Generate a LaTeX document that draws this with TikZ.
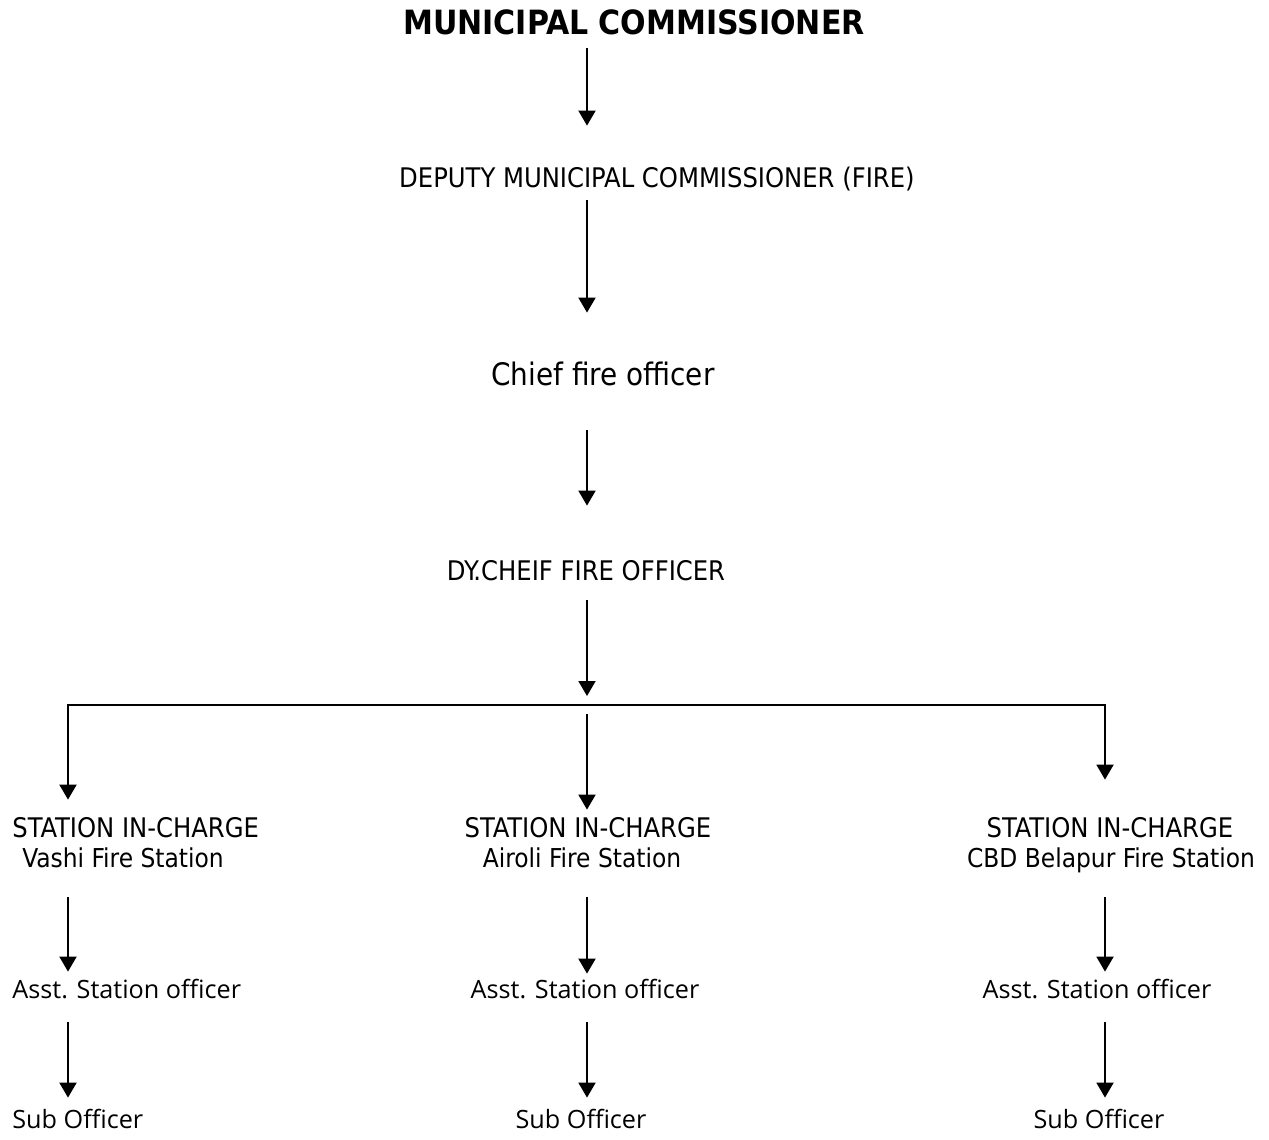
\documentclass[tikz,border=0pt]{standalone}
\usepackage{fontspec}
\setmainfont{Open Sans}
\newfontfamily\tahfont{DejaVu Sans Condensed}
\usetikzlibrary{arrows.meta, positioning, calc}

\tikzset{
    lbl/.style={inner sep=0pt, text height=9pt, text depth=2pt, anchor=base, font=\tahfont\fontsize{13.5}{16}\selectfont},
    lblw/.style={lbl, anchor=base west},
    stn/.style={lbl, font=\tahfont\fontsize{13}{16}\selectfont},
    low/.style={lbl, font=\fontsize{12.6}{15}\selectfont},
    arr/.style={-{Triangle[length=7.5pt,width=8.5pt]}, line width=1pt}
}

\begin{document}
\begin{tikzpicture}[x=0.5pt, y=-0.5pt]
        \useasboundingbox (0,0) rectangle (1269,1140);
        % columns of the chart
        \coordinate (colL) at (68,0);
        \coordinate (colM) at (587,0);
        \coordinate (colR) at (1105,0);

        % top of the chain
        \node[lbl, font=\tahfont\bfseries\fontsize{16.7}{20}\selectfont] (mc) at (634,34) {MUNICIPAL COMMISSIONER};
        \node[lbl] (dmc) at (657,187) {DEPUTY MUNICIPAL COMMISSIONER (FIRE)};
        \node[lbl, font=\tahfont\fontsize{15.5}{19}\selectfont] (cfo) at (603,385) {Chief fire officer};
        \node[lbl] (dcfo) at (586,580) {DY.CHEIF FIRE OFFICER};
        \coordinate (split) at (colM |- 0,705); % branching point

        % fire stations
        \node[lbl, anchor=base west] (st1) at (12,837) {STATION IN-CHARGE};
        \node[stn, anchor=base west] (vs1) at (22,867) {Vashi Fire Station};
        \node[lbl] (st2) at (588,837) {STATION IN-CHARGE};
        \node[stn] (vs2) at (582,867) {Airoli Fire Station};
        \node[lbl] (st3) at (1110,837) {STATION IN-CHARGE};
        \node[stn] (vs3) at (1111,867) {CBD Belapur Fire Station};

        % officers
        \node[low, anchor=base west] (as1) at (12,998) {Asst. Station officer};
        \node[low] (as2) at (585,998) {Asst. Station officer};
        \node[low] (as3) at (1097,998) {Asst. Station officer};
        \node[low, anchor=base west] (so1) at (12,1128) {Sub Officer};
        \node[low] (so2) at (581,1128) {Sub Officer};
        \node[low] (so3) at (1099,1128) {Sub Officer};

        % arrows down the chain
        \draw[arr, shorten <=5pt, shorten >=21.5pt] (mc.south -| colM) -- (dmc.north -| colM);
        \draw[arr, shorten <=4.5pt, shorten >=27pt] (dmc.south -| colM) -- (cfo.north -| colM);
        \draw[arr, shorten <=20.5pt, shorten >=28pt] (cfo.south -| colM) -- (dcfo.north -| colM);
        \draw[arr, shorten <=8pt, shorten >=4.5pt] (dcfo.south -| colM) -- (split);

        % branches to the stations
        \draw[arr, shorten >=9.5pt] (split) -| (colL |- st1.north);
        \draw[arr, shorten >=19.5pt] (split) -| (colR |- st3.north);
        \draw[arr, shorten <=4.5pt, shorten >=4.5pt] (split) -- (st2.north -| colM);

        % inside each station
        \draw[arr, shorten <=13pt, shorten >=4pt] (vs1.south -| colL) -- (as1.north -| colL);
        \draw[arr, shorten <=13pt, shorten >=3pt] (vs2.south -| colM) -- (as2.north -| colM);
        \draw[arr, shorten <=13pt, shorten >=4pt] (vs3.south -| colR) -- (as3.north -| colR);
        \draw[arr, shorten <=10pt, shorten >=6pt] (as1.south -| colL) -- (so1.north -| colL);
        \draw[arr, shorten <=10pt, shorten >=6pt] (as2.south -| colM) -- (so2.north -| colM);
        \draw[arr, shorten <=10pt, shorten >=6pt] (as3.south -| colR) -- (so3.north -| colR);
    \end{tikzpicture}
\end{document}
